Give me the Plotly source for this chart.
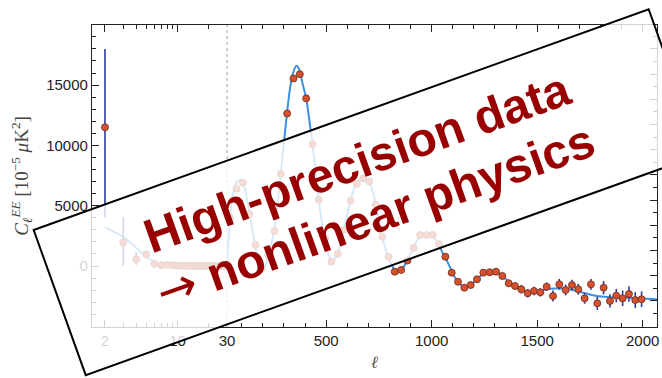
import math
import plotly.graph_objects as go

# ---------------------------------------------------------------- data
# Low multipoles (log-scaled part of the axis), C_ell^EE in 1e-5 muK^2
lowl_ell = list(range(2, 30))
lowl_cl = [11500, 1960, 560, 970, 170, 60, 100, 60, 30, 20, 10, 10, 0, 10,
           0, -10, 0, 10, 0, 0, -10, 0, 0, 10, 0, 0, 0, 0]
lowl_err_up = [6500, 2100, 620, 300, 120, 80, 70, 60, 50, 40, 40, 40, 40, 40,
               40, 40, 40, 40, 40, 40, 40, 40, 40, 40, 40, 40, 40, 40]
lowl_err_dn = [7500, 1960, 480, 300, 120, 80, 70, 60, 50, 40, 40, 40, 40, 40,
               40, 40, 40, 40, 40, 40, 40, 40, 40, 40, 40, 40, 40, 40]

lowl_model_ell = [2, 3, 4, 5, 6, 7, 8, 10, 13, 20, 30]
lowl_model_cl = [3200, 2400, 1500, 750, 330, 140, 60, 25, 10, 5, 0]

# High multipoles (linear part), binned with delta-ell = 30
highl_ell = [45, 75, 105, 135, 165, 195, 225, 255, 285, 315,
             345, 375, 405, 435, 465, 495, 525, 555, 585, 615,
             645, 675, 705, 735, 765, 795, 825, 855, 885, 915,
             945, 975, 1005, 1035, 1065, 1095, 1125, 1155, 1185, 1215,
             1245, 1275, 1305, 1335, 1365, 1395, 1425, 1455, 1485, 1515,
             1545, 1575, 1605, 1635, 1665, 1695, 1725, 1755, 1785, 1815,
             1845, 1875, 1905, 1935, 1965, 1995]
highl_cl = [4000, 6400, 6900, 4300, 1750, -200, 900, 2900, 7650, 12650,
            15550, 15900, 13900, 10100, 5500, 2300, 360, 1000, 3000, 5400,
            6800, 7250, 7000, 5100, 2430, 770, -470, -330, 450, 1520,
            2570, 2570, 2570, 1820, 770, -550, -1300, -1800, -1580, -1100,
            -550, -520, -470, -830, -1430, -1660, -1930, -2260, -2070, -2180,
            -1720, -2490, -1520, -1990, -1580, -1930, -2680, -1520, -3090, -1800,
            -2900, -2460, -2680, -2320, -2820, -2760]
highl_err = [150] * 32 + [200] * 7 + [280] * 7 + [350] * 5 + [450] * 7 + [550] * 4 + [650] * 4

model_ell = [30, 38, 45, 55, 65, 80, 95, 110, 125, 140, 155, 170, 185, 198, 212,
             228, 240, 255, 270, 285, 300, 315, 330, 345, 358, 372, 387, 405, 420,
             435, 450, 465, 480, 495, 510, 525, 540, 555, 570, 585, 600, 615, 630,
             650, 670, 690, 705, 720, 735, 750, 765, 780, 795, 810, 825, 840, 855,
             870, 885, 900, 915, 930, 945, 960, 975, 990, 1005, 1020, 1035, 1050,
             1065, 1080, 1095, 1110, 1125, 1140, 1155, 1170, 1185, 1200, 1215, 1230,
             1245, 1260, 1275, 1290, 1305, 1320, 1335, 1350, 1365, 1380, 1395, 1410,
             1425, 1440, 1455, 1470, 1485, 1500, 1520, 1540, 1560, 1580, 1600, 1620,
             1640, 1660, 1680, 1700, 1730, 1760, 1790, 1820, 1850, 1880, 1910, 1940,
             1970, 2000, 2070]
model_cl = [300, 2500, 4100, 5600, 6500, 7050, 7150, 6700, 5500, 4000, 2500, 1100, 150, -250, 50,
            1000, 1800, 3000, 5200, 7700, 10300, 12800, 14900, 16100, 16600, 16300, 15200, 13900, 12100,
            10100, 7800, 5500, 3600, 2200, 1000, 450, 550, 1100, 2000, 3100, 4300, 5400, 6300,
            7000, 7250, 7200, 6900, 6200, 5200, 3900, 2500, 1500, 700, 100, -350, -500, -350,
            0, 500, 1050, 1600, 2100, 2450, 2650, 2750, 2700, 2500, 2150, 1750, 1150,
            700, 150, -400, -950, -1300, -1600, -1750, -1750, -1600, -1350, -1100, -850,
            -650, -530, -470, -460, -500, -620, -820, -1050, -1300, -1530, -1720, -1870,
            -2000, -2100, -2160, -2180, -2160, -2110, -2030, -1950, -1890, -1860, -1850, -1860,
            -1900, -1960, -2040, -2130, -2270, -2400, -2500, -2560, -2590, -2600, -2610, -2630,
            -2660, -2700, -2760]
assert len(model_ell) == len(model_cl)
assert len(highl_ell) == len(highl_cl) == len(highl_err)

x_ticks_low = [2, 10]
x_ticks_high = [30, 500, 1000, 1500, 2000]
y_ticks = [0, 5000, 10000, 15000]

# ---------------------------------------------------------------- style
W, H = 662, 378
ML, MR, MT, MB = 92, 5, 25, 51
SPLIT = 0.239                     # fraction of width given to the log part
DATA_RED = "#d4532e"
EDGE = "#6b2a1a"
BAR_BLUE = "#2c3c9c"
MODEL_BLUE = "#3d8fe0"
AXIS = "#222222"
TEXT_RED = "#990000"
TICKFONT = dict(family="Liberation Sans, Arial, sans-serif", size=15, color=AXIS)


def px_to_paper(px, py):
    return ((px - ML) / (W - ML - MR), (H - MB - py) / (H - MT - MB))


fig = go.Figure()

# low-ell model and points
fig.add_trace(go.Scatter(x=lowl_model_ell, y=lowl_model_cl, mode="lines",
                         line=dict(color=MODEL_BLUE, width=1.8, shape="spline"),
                         xaxis="x", yaxis="y", hoverinfo="skip"))
fig.add_trace(go.Scatter(x=lowl_ell, y=lowl_cl, mode="markers",
                         marker=dict(size=7, color=DATA_RED, line=dict(color=EDGE, width=0.8)),
                         error_y=dict(type="data", array=lowl_err_up, arrayminus=lowl_err_dn,
                                      color=BAR_BLUE, thickness=1.6, width=0),
                         xaxis="x", yaxis="y"))

# high-ell model and points
fig.add_trace(go.Scatter(x=model_ell, y=model_cl, mode="lines",
                         line=dict(color=MODEL_BLUE, width=2, shape="spline", smoothing=0.8),
                         xaxis="x2", yaxis="y2", hoverinfo="skip"))
fig.add_trace(go.Scatter(x=highl_ell, y=highl_cl, mode="markers",
                         marker=dict(size=7, color=DATA_RED, line=dict(color=EDGE, width=0.8)),
                         error_y=dict(type="data", array=highl_err,
                                      color=BAR_BLUE, thickness=1.6, width=0),
                         xaxis="x2", yaxis="y2"))
# carrier for the right-hand tick axis
fig.add_trace(go.Scatter(x=[None], y=[None], xaxis="x2", yaxis="y3", hoverinfo="skip"))

common_axis = dict(showgrid=False, zeroline=False, showline=True, linecolor=AXIS,
                   linewidth=1.3, ticks="inside", tickcolor=AXIS, tickwidth=1,
                   tickfont=TICKFONT)

fig.update_layout(
    width=W, height=H, showlegend=False,
    margin=dict(l=ML, r=MR, t=MT, b=MB, autoexpand=False),
    paper_bgcolor="white", plot_bgcolor="rgba(0,0,0,0)",
    xaxis=dict(common_axis, type="log", domain=[0, SPLIT],
               range=[math.log10(1.5), math.log10(30)],
               tickvals=x_ticks_low, ticktext=[str(v) for v in x_ticks_low],
               ticklen=7, mirror="ticks", anchor="y",
               minor=dict(tickvals=[3, 4, 5, 6, 7, 8, 9, 20], ticks="inside",
                          ticklen=4, tickcolor=AXIS)),
    xaxis2=dict(common_axis, domain=[SPLIT, 1], range=[30, 2068],
                tickvals=x_ticks_high, ticktext=[str(v) for v in x_ticks_high],
                ticklen=7, mirror="ticks", anchor="y2",
                minor=dict(tick0=0, dtick=100, ticks="inside", ticklen=4, tickcolor=AXIS)),
    yaxis=dict(common_axis, range=[-5058, 19983], tickvals=y_ticks,
               ticktext=[str(v) for v in y_ticks], ticklen=7, anchor="x",
               minor=dict(tick0=0, dtick=1000, ticks="inside", ticklen=4, tickcolor=AXIS),
               title=dict(text="<i>C</i><sub><i>ℓ</i></sub><sup><i>EE</i></sup> "
                               "[10<sup>−5</sup> <i>μ</i>K<sup>2</sup>]",
                          font=dict(family="Liberation Serif, serif", size=19, color="#444444"),
                          standoff=12)),
    yaxis2=dict(matches="y", anchor="x2", visible=False, showgrid=False, zeroline=False),
    yaxis3=dict(showgrid=False, zeroline=False, showline=True, linecolor=AXIS, linewidth=1.3,
                overlaying="y2", anchor="x2", side="right", range=[-10.32, 109.5],
                tick0=0, dtick=10, ticks="inside", ticklen=7, tickcolor=AXIS,
                showticklabels=False,
                minor=dict(dtick=5, ticks="inside", ticklen=4, tickcolor=AXIS)),
)

# boundary between the log and linear parts of the multipole axis
fig.add_shape(type="line", xref="paper", yref="paper", x0=SPLIT, x1=SPLIT, y0=0, y1=1,
              line=dict(color="#a0a0a0", width=1, dash="dot"), layer="below")

# multipole axis title
fig.add_annotation(text="<i>ℓ</i>", xref="paper", yref="paper",
                   x=px_to_paper(374, 0)[0], y=px_to_paper(0, 362)[1],
                   showarrow=False, xanchor="center", yanchor="middle",
                   font=dict(family="DejaVu Serif, serif", size=17, color="#555555"))

# tilted translucent banner
cx, cy = 367.2, 192.2
bw, bh = 653.4, 154.2
ang = math.radians(19.74)
ux, uy = math.cos(ang), -math.sin(ang)      # along the banner
vx, vy = math.sin(ang), math.cos(ang)       # across the banner (downwards)
corners = []
for sa, sb in [(-1, -1), (1, -1), (1, 1), (-1, 1)]:
    px = cx + sa * bw / 2 * ux + sb * bh / 2 * vx
    py = cy + sa * bw / 2 * uy + sb * bh / 2 * vy
    corners.append(px_to_paper(px, py))
path = "M " + " L ".join(f"{x:.5f},{y:.5f}" for x, y in corners) + " Z"
fig.add_shape(type="path", path=path, xref="paper", yref="paper",
              fillcolor="rgba(255,255,255,0.80)", line=dict(color="black", width=2),
              layer="above")

banner_font = dict(family="Liberation Sans, Arial, sans-serif", size=48,
                   color=TEXT_RED, weight="bold")
line1 = px_to_paper(357.0, 162.9)
line2 = px_to_paper(375.0, 215.5)
fig.add_annotation(text="High-precision data", xref="paper", yref="paper",
                   x=line1[0], y=line1[1], showarrow=False, textangle=-19.74,
                   xanchor="center", yanchor="middle", font=banner_font)
fig.add_annotation(text="<span style='font-family:DejaVu Sans;font-weight:normal'>→</span> nonlinear physics",
                   xref="paper", yref="paper",
                   x=line2[0], y=line2[1], showarrow=False, textangle=-19.74,
                   xanchor="center", yanchor="middle", font=banner_font)

fig.write_html("out.html")
